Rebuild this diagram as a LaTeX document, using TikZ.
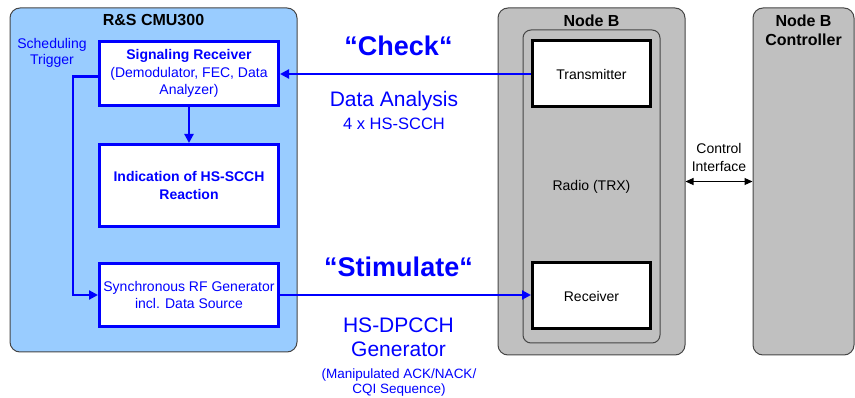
\documentclass[tikz,border=0pt]{standalone}
\usepackage{fontspec}
\setmainfont{Liberation Sans}
\usepackage{xcolor}
\usepackage{tikz}
\usetikzlibrary{positioning, calc, arrows.meta}

\definecolor{cmublue}{RGB}{153,204,255}
\definecolor{nodegray}{RGB}{192,192,192}
\definecolor{rimgray}{RGB}{70,70,70}

\begin{document}
\begin{tikzpicture}[x=1pt, y=-1pt,
                        panel/.style={rectangle, rounded corners=10pt, draw=rimgray, line width=1pt, inner sep=0pt},
                        paneltitle/.style={font=\bfseries\fontsize{16}{19.5}\selectfont, align=center, inner sep=0pt},
                        cmunode/.style={rectangle, draw=blue, fill=white, line width=3pt, text=blue, align=center, minimum width=179pt, inner sep=0pt, font=\fontsize{14}{17.5}\selectfont},
                        radionode/.style={rectangle, draw=black, fill=white, line width=3pt, minimum width=118pt, minimum height=66pt, font=\fontsize{14}{17}\selectfont},
                        bigtext/.style={text=blue, anchor=base, inner sep=0pt, font=\bfseries\fontsize{27}{30}\selectfont},
                        bluetext/.style={text=blue, anchor=base, inner sep=0pt},
                        flow/.style={blue, line width=2.2pt, -{Triangle[length=9pt,width=9pt]}},
                        ]
        \useasboundingbox (0,0) rectangle (855,398);

        %Panels
        \node[panel, fill=cmublue, minimum width=287pt, minimum height=344pt]   (CMU)      at (153.5,180)   {};
        \node[paneltitle]  (CMUtitle)   [below=7pt of CMU.north]     {R\&S CMU300};
        \node[panel, fill=nodegray, minimum width=187pt, minimum height=347pt]  (NodeB)    at (591.5,181.5) {};
        \node[paneltitle]  (NodeBtitle) [below=7pt of NodeB.north]   {Node B};
        \node[panel, fill=nodegray, minimum width=101pt, minimum height=347pt]  (Ctrl)     at (803.5,181.5) {};
        \node[paneltitle]  (Ctrltitle)  [below=7pt of Ctrl.north]    {Node B\\Controller};
        \node[panel, fill=nodegray, rounded corners=8pt, minimum width=137pt, minimum height=313pt,
              font=\fontsize{14}{17}\selectfont]                                (Radio)    at (591.5,186.5) {Radio (TRX)};

        %CMU boxes
        \node[cmunode, minimum height=64pt]  (SigRx)   at (189,73.5)          {\textbf{Signaling Receiver}\\(Demodulator, FEC, Data\\Analyzer)};
        \node[cmunode, minimum height=82pt]  (Indic)   [below=36pt of SigRx]  {\textbf{Indication of HS-SCCH}\\\textbf{Reaction}};
        \node[cmunode, minimum height=63pt]  (SyncGen) [below=34pt of Indic]  {Synchronous RF Generator\\incl. Data Source};

        %Radio boxes
        \node[radionode]   (Tx)   [below=10pt of Radio.north]  {Transmitter};
        \node[radionode]   (Rx)   [above=13pt of Radio.south]  {Receiver};

        %Texts
        \node[bluetext, anchor=north, align=center, font=\fontsize{14}{16}\selectfont] (Trigger) at (52,38) {Scheduling\\Trigger};
        \node[bigtext]  (Check)     at (398.5,56)  {“Check“};
        \node[bluetext, font=\fontsize{21}{24}\selectfont]     (Analysis)  at (394,107)   {Data Analysis};
        \node[bluetext, font=\fontsize{16.5}{19}\selectfont]   (Scch)      at (394,130)   {4 x HS-SCCH};
        \node[bigtext]  (Stimulate) at (398.5,277) {“Stimulate“};
        \node[bluetext, font=\fontsize{21}{24}\selectfont]     (Dpcch)     at (398.5,333) {HS-DPCCH};
        \node[bluetext, font=\fontsize{21}{24}\selectfont]     (Generator) at (398.5,357) {Generator};
        \node[bluetext, font=\fontsize{13.5}{16}\selectfont]   (Manip)     at (399,378)   {(Manipulated ACK/NACK/};
        \node[bluetext, font=\fontsize{13.5}{16}\selectfont]   (Cqi)       at (399,393.5) {CQI Sequence)};

        %Lines
        \draw[flow] (Tx.west)  --  (Tx.west -| SigRx.east);
        \draw[flow] (SigRx.south)  --  (Indic.north);
        \draw[flow] ([yshift=-3pt]SigRx.west)  --  ++(-25pt,0)  |-  (SyncGen.west);
        \draw[flow] (SyncGen.east)  --  (SyncGen.east -| Rx.west);
        \draw[line width=1.2pt, {Triangle[length=8pt,width=7pt]}-{Triangle[length=8pt,width=7pt]}]
              (NodeB.east)  to node[above=9pt, align=center, inner sep=0pt, font=\fontsize{14}{18}\selectfont] (CtrlLabel) {Control\\Interface}  (Ctrl.west);
    \end{tikzpicture}
\end{document}
